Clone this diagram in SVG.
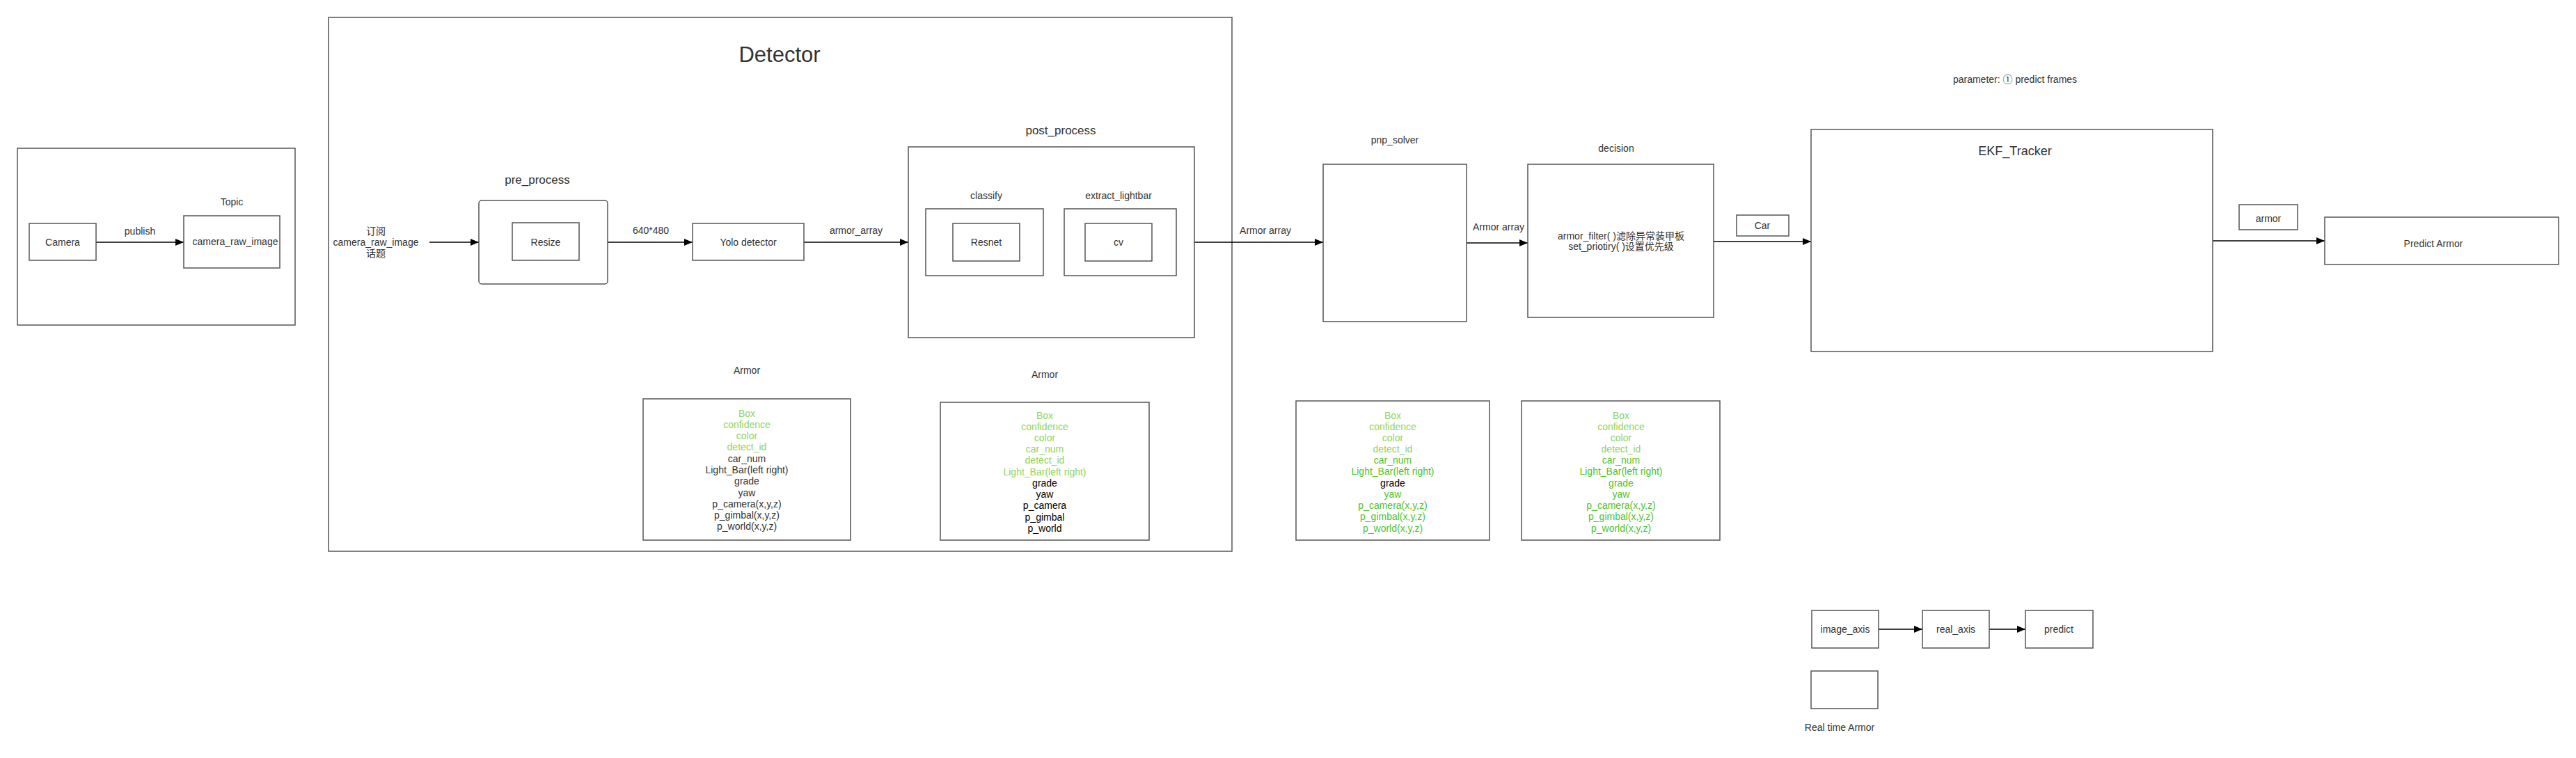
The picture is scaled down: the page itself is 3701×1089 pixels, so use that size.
<svg xmlns="http://www.w3.org/2000/svg" width="3701" height="1089" viewBox="0 0 3701 1089">
  <style>
    .box { fill: #ffffff; stroke: #555555; stroke-width: 1.5; }
    .frame { fill: none; stroke: #555555; stroke-width: 1.5; }
    .edge { fill: none; stroke: #000000; stroke-width: 1.6; }
    text { font-family: "Liberation Sans", "Noto Sans CJK SC", sans-serif; font-size: 14px; fill: #333333; text-anchor: middle; dominant-baseline: central; }
    .title { font-size: 31px; }
    .sub { font-size: 17px; }
    .ekf { font-size: 18px; }
    .g1 { fill: #8ed45e; }
    .g2 { fill: #4cc52a; }
    .k { fill: #000000; }
  </style>
  <defs>
    <marker id="arrow" markerWidth="12" markerHeight="10" refX="12" refY="5" orient="auto" markerUnits="userSpaceOnUse">
      <path d="M0,0 L12,5 L0,10 Z" fill="#000000"/>
    </marker>
  </defs>
  <rect width="3701" height="1089" fill="#ffffff"/>

  <!-- Containers -->
  <g id="camera-group">
    <rect class="frame" x="25" y="213" width="399" height="254"/>
  </g>
  <g id="detector">
    <rect class="frame" x="472" y="25" width="1298" height="767"/>
    <text class="title" x="1120" y="78">Detector</text>
  </g>

  <!-- Connectors -->
  <g id="connectors">
    <line class="edge" x1="138" y1="348" x2="264" y2="348" marker-end="url(#arrow)"/>
    <line class="edge" x1="617" y1="348" x2="688" y2="348" marker-end="url(#arrow)"/>
    <line class="edge" x1="873" y1="348" x2="995" y2="348" marker-end="url(#arrow)"/>
    <line class="edge" x1="1155" y1="348" x2="1305" y2="348" marker-end="url(#arrow)"/>
    <line class="edge" x1="1499" y1="348" x2="1529" y2="348" marker-end="url(#arrow)"/>
    <line class="edge" x1="1716" y1="348" x2="1901" y2="348" marker-end="url(#arrow)"/>
    <line class="edge" x1="2107" y1="349" x2="2195" y2="349" marker-end="url(#arrow)"/>
    <line class="edge" x1="2462" y1="347" x2="2602" y2="347" marker-end="url(#arrow)"/>
    <line class="edge" x1="3179" y1="346" x2="3340" y2="346" marker-end="url(#arrow)"/>
    <line class="edge" x1="2699" y1="904" x2="2762" y2="904" marker-end="url(#arrow)"/>
    <line class="edge" x1="2858" y1="904" x2="2910" y2="904" marker-end="url(#arrow)"/>
    <text x="201" y="332">publish</text>
    <text x="935" y="331">640*480</text>
    <text x="1230" y="331">armor_array</text>
    <text x="1818" y="331">Armor array</text>
    <text x="2153" y="326">Armor array</text>
  </g>

  <!-- Nodes -->
  <g id="camera">
    <rect class="box" x="42" y="321" width="96" height="53"/>
    <text x="90" y="348">Camera</text>
  </g>
  <g id="topic">
    <text x="333" y="290">Topic</text>
    <rect class="box" x="264" y="310" width="138" height="75"/>
    <text x="338" y="347">camera_raw_image</text>
  </g>
  <g id="subscribe-label">
    <text x="540" y="332">订阅</text>
    <text x="540" y="348">camera_raw_image</text>
    <text x="540" y="364">话题</text>
  </g>
  <g id="pre-process">
    <text class="sub" x="772" y="258">pre_process</text>
    <rect class="box" x="688" y="288" width="185" height="120" rx="4" ry="4"/>
  </g>
  <g id="resize">
    <rect class="box" x="736" y="320" width="96" height="54"/>
    <text x="784" y="348">Resize</text>
  </g>
  <g id="yolo">
    <rect class="box" x="995" y="321" width="160" height="53"/>
    <text x="1075" y="348">Yolo detector</text>
  </g>
  <g id="post-process">
    <text class="sub" x="1524" y="187">post_process</text>
    <rect class="box" x="1305" y="211" width="411" height="274"/>
  </g>
  <g id="classify">
    <text x="1417" y="281">classify</text>
    <rect class="box" x="1330" y="300" width="169" height="96"/>
  </g>
  <g id="resnet">
    <rect class="box" x="1369" y="321" width="96" height="54"/>
    <text x="1417" y="348">Resnet</text>
  </g>
  <g id="extract-lightbar">
    <text x="1607" y="281">extract_lightbar</text>
    <rect class="box" x="1529" y="300" width="161" height="96"/>
  </g>
  <g id="cv">
    <rect class="box" x="1559" y="321" width="96" height="54"/>
    <text x="1607" y="348">cv</text>
  </g>

  <g id="armor-table-1">
    <text x="1073" y="532">Armor</text>
    <rect class="box" x="924" y="573" width="298" height="203"/>
    <text class="g1" x="1073" y="594">Box</text>
    <text class="g1" x="1073" y="610">confidence</text>
    <text class="g1" x="1073" y="626">color</text>
    <text class="g1" x="1073" y="642">detect_id</text>
    <text x="1073" y="659">car_num</text>
    <text x="1073" y="675">Light_Bar(left right)</text>
    <text x="1073" y="691">grade</text>
    <text x="1073" y="708">yaw</text>
    <text x="1073" y="724">p_camera(x,y,z)</text>
    <text x="1073" y="740">p_gimbal(x,y,z)</text>
    <text x="1073" y="756">p_world(x,y,z)</text>
  </g>
  <g id="armor-table-2">
    <text x="1501" y="538">Armor</text>
    <rect class="box" x="1351" y="578" width="300" height="198"/>
    <text class="g1" x="1501" y="597">Box</text>
    <text class="g1" x="1501" y="613">confidence</text>
    <text class="g1" x="1501" y="629">color</text>
    <text class="g1" x="1501" y="645">car_num</text>
    <text class="g1" x="1501" y="661">detect_id</text>
    <text class="g1" x="1501" y="678">Light_Bar(left right)</text>
    <text class="k" x="1501" y="694">grade</text>
    <text class="k" x="1501" y="710">yaw</text>
    <text class="k" x="1501" y="726">p_camera</text>
    <text class="k" x="1501" y="743">p_gimbal</text>
    <text class="k" x="1501" y="759">p_world</text>
  </g>

  <g id="pnp-solver">
    <text x="2004" y="201">pnp_solver</text>
    <rect class="box" x="1901" y="236" width="206" height="226"/>
  </g>
  <g id="decision">
    <text x="2322" y="213">decision</text>
    <rect class="box" x="2195" y="236" width="267" height="220"/>
    <text x="2329" y="339">armor_filter( )滤除异常装甲板</text>
    <text x="2329" y="354">set_priotiry( )设置优先级</text>
  </g>
  <g id="car-label">
    <rect class="box" x="2495" y="309" width="75" height="30"/>
    <text x="2532" y="324">Car</text>
  </g>

  <g id="armor-table-3">
    <rect class="box" x="1862" y="576" width="278" height="200"/>
    <text class="g1" x="2001" y="597">Box</text>
    <text class="g1" x="2001" y="613">confidence</text>
    <text class="g1" x="2001" y="629">color</text>
    <text class="g1" x="2001" y="645">detect_id</text>
    <text class="g2" x="2001" y="661">car_num</text>
    <text class="g2" x="2001" y="677">Light_Bar(left right)</text>
    <text class="k" x="2001" y="694">grade</text>
    <text class="g2" x="2001" y="710">yaw</text>
    <text class="g2" x="2001" y="726">p_camera(x,y,z)</text>
    <text class="g2" x="2001" y="742">p_gimbal(x,y,z)</text>
    <text class="g2" x="2001" y="759">p_world(x,y,z)</text>
  </g>
  <g id="armor-table-4">
    <rect class="box" x="2186" y="576" width="285" height="200"/>
    <text class="g1" x="2329" y="597">Box</text>
    <text class="g1" x="2329" y="613">confidence</text>
    <text class="g1" x="2329" y="629">color</text>
    <text class="g1" x="2329" y="645">detect_id</text>
    <text class="g2" x="2329" y="661">car_num</text>
    <text class="g2" x="2329" y="677">Light_Bar(left right)</text>
    <text class="g2" x="2329" y="694">grade</text>
    <text class="g2" x="2329" y="710">yaw</text>
    <text class="g2" x="2329" y="726">p_camera(x,y,z)</text>
    <text class="g2" x="2329" y="742">p_gimbal(x,y,z)</text>
    <text class="g2" x="2329" y="759">p_world(x,y,z)</text>
  </g>

  <g id="ekf-tracker">
    <text x="2895" y="114">parameter: ① predict frames</text>
    <rect class="box" x="2602" y="186" width="577" height="319"/>
    <text class="ekf" x="2895" y="217">EKF_Tracker</text>
  </g>
  <g id="armor-label">
    <rect class="box" x="3217" y="294" width="84" height="36"/>
    <text x="3259" y="314">armor</text>
  </g>
  <g id="predict-armor">
    <rect class="box" x="3340" y="312" width="336" height="68"/>
    <text x="3496" y="350">Predict Armor</text>
  </g>

  <g id="image-axis">
    <rect class="box" x="2603" y="877" width="96" height="54"/>
    <text x="2651" y="904">image_axis</text>
  </g>
  <g id="real-axis">
    <rect class="box" x="2762" y="877" width="96" height="54"/>
    <text x="2810" y="904">real_axis</text>
  </g>
  <g id="predict">
    <rect class="box" x="2910" y="877" width="97" height="54"/>
    <text x="2958" y="904">predict</text>
  </g>
  <g id="real-time-armor">
    <rect class="box" x="2602" y="964" width="96" height="54"/>
    <text x="2643" y="1045">Real time Armor</text>
  </g>
</svg>
